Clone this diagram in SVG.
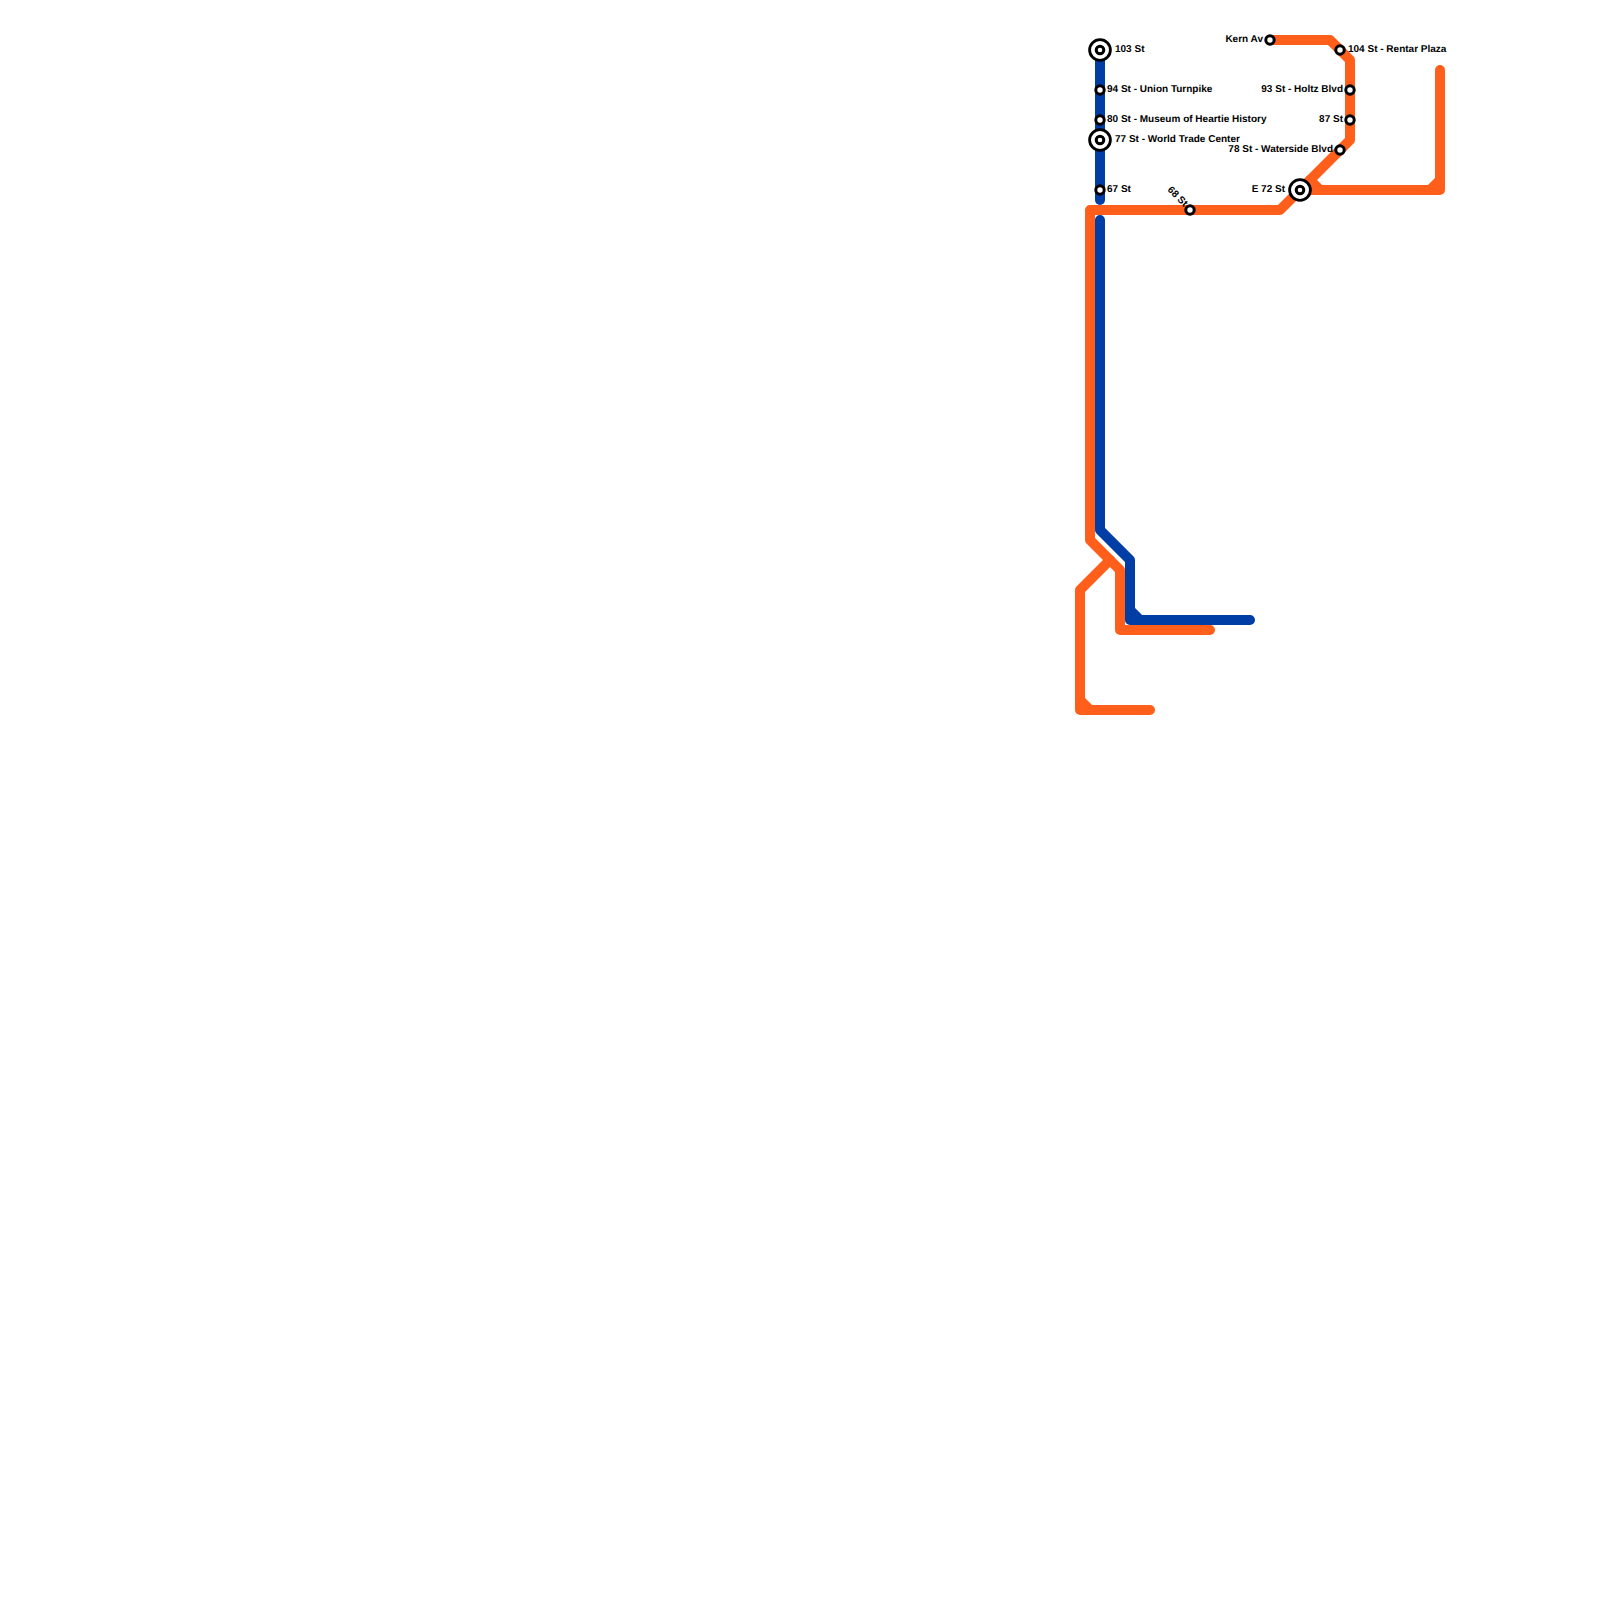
<svg xmlns="http://www.w3.org/2000/svg" width="1600" height="1600" viewBox="0 0 1600 1600">
<style>
.l{fill:none;stroke-width:10;stroke-linecap:round;stroke-linejoin:round}
.o{stroke:#ff5f1a}
.b{stroke:#003da5}
.s{fill:#fff;stroke:#000;stroke-width:3}
.c{fill:#fff;stroke:#000;stroke-width:3}
.r{fill:#fff;stroke:#000;stroke-width:2.8}
text{font-family:"Liberation Sans",Arial,sans-serif;font-size:10px;font-weight:700;fill:#000;text-rendering:geometricPrecision}
.e{text-anchor:end}
</style>
<rect width="1600" height="1600" fill="#fff"/>
<g id="connectors">
<path class="l b" d="M1100 50V200"/>
<path class="l o" d="M1270 40H1330L1350 60V140L1280 210H1090V540L1120 570V630H1210"/>
<path class="l o" d="M1110 560L1080 590V710H1150M1080 700L1090 710"/>
<path class="l o" d="M1300 190H1440V70M1430 190L1440 180M1310 180L1320 190"/>
<path class="l b" d="M1100 220V530L1130 560V620H1250M1130 610L1140 620"/>
</g>
<g id="st-103"><circle class="r" cx="1100" cy="50" r="10.4"/><circle class="c" cx="1100" cy="50" r="3.8"/><text x="1115" y="52">103 St</text></g>
<g id="st-94"><circle class="s" cx="1100" cy="90" r="4.2"/><text x="1107" y="92">94 St - Union Turnpike</text></g>
<g id="st-80"><circle class="s" cx="1100" cy="120" r="4.2"/><text x="1107" y="122">80 St - Museum of Heartie History</text></g>
<g id="st-77"><circle class="r" cx="1100" cy="140" r="10.4"/><circle class="c" cx="1100" cy="140" r="3.8"/><text x="1115" y="142">77 St - World Trade Center</text></g>
<g id="st-67"><circle class="s" cx="1100" cy="190" r="4.2"/><text x="1107" y="192">67 St</text></g>
<g id="st-68"><circle class="s" cx="1190" cy="210" r="4.2"/><text class="e" transform="translate(1186 205) rotate(45)" x="0" y="3">68 St</text></g>
<g id="st-kern"><circle class="s" cx="1270" cy="40" r="4.2"/><text class="e" x="1263" y="42">Kern Av</text></g>
<g id="st-104"><circle class="s" cx="1340" cy="50" r="4.2"/><text x="1348" y="52">104 St - Rentar Plaza</text></g>
<g id="st-93"><circle class="s" cx="1350" cy="90" r="4.2"/><text class="e" x="1343" y="92">93 St - Holtz Blvd</text></g>
<g id="st-87"><circle class="s" cx="1350" cy="120" r="4.2"/><text class="e" x="1343" y="122">87 St</text></g>
<g id="st-78"><circle class="s" cx="1340" cy="150" r="4.2"/><text class="e" x="1333" y="152">78 St - Waterside Blvd</text></g>
<g id="st-e72"><circle class="r" cx="1300" cy="190" r="10.4"/><circle class="c" cx="1300" cy="190" r="3.8"/><text class="e" x="1285" y="192">E 72 St</text></g>
</svg>
